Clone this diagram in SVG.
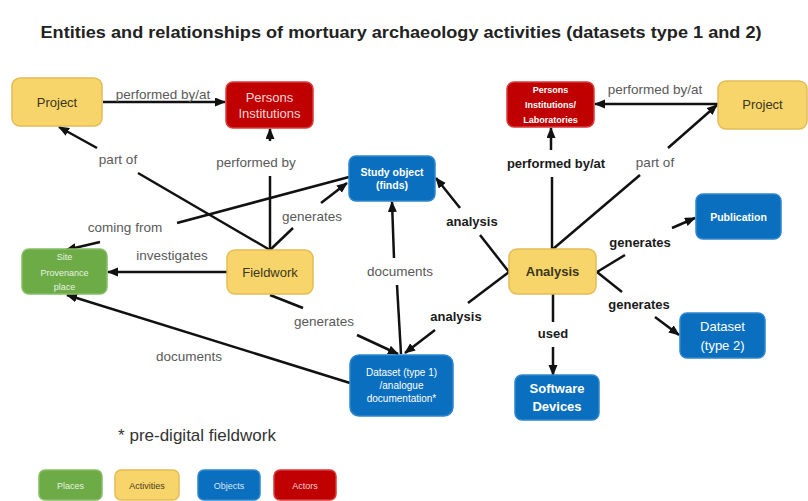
<svg xmlns="http://www.w3.org/2000/svg" width="808" height="501" viewBox="0 0 808 501">
<defs>
<marker id="ah" markerUnits="userSpaceOnUse" markerWidth="11" markerHeight="10" refX="10" refY="4.5" orient="auto">
<path d="M0,0 L11,4.5 L0,9 z" fill="#111"/>
</marker>
<style>
text{font-family:"Liberation Sans",Arial,sans-serif;text-anchor:middle}
.title{font-size:17px;font-weight:bold;fill:#222}
.yel{fill:#F8D56A;stroke:#E3BC55;stroke-width:1.5}
.red{fill:#C00000;stroke:#D83A3A;stroke-width:1.5}
.blu{fill:#0A6FBF;stroke:#2F86CC;stroke-width:1.5}
.grn{fill:#6CAB46;stroke:#86BD65;stroke-width:1.5}
.tdk{fill:#3A3520;font-size:13px}
.tlt{fill:#F6D6D6;font-size:13px}
.tw{fill:#FFFFFF}
.lbl{font-size:13.5px;fill:#595959}
.lbb{font-size:13px;font-weight:bold;fill:#1A1A1A}
#connectors line{stroke:#111;stroke-width:2.5;fill:none}
.arr{marker-end:url(#ah)}
</style>
</defs>
<rect width="808" height="501" fill="#FFFFFF"/>
<text class="title" x="401" y="38" textLength="721" lengthAdjust="spacingAndGlyphs">Entities and relationships of mortuary archaeology activities (datasets type 1 and 2)</text>

<g id="connectors">
<line class="arr" x1="103" y1="102" x2="225" y2="102"/>
<line x1="270" y1="250" x2="270" y2="176"/>
<line class="arr" x1="270" y1="141" x2="270" y2="129"/>
<line x1="270" y1="250" x2="138" y2="173"/>
<line class="arr" x1="97" y1="148" x2="59" y2="127"/>
<line x1="270" y1="250" x2="293" y2="228"/>
<line class="arr" x1="321" y1="203" x2="347" y2="183"/>
<line x1="349" y1="177" x2="177" y2="223"/>
<line class="arr" x1="100" y1="242" x2="66" y2="250"/>
<line class="arr" x1="227" y1="272" x2="108" y2="272"/>
<line x1="270" y1="295" x2="303" y2="308"/>
<line class="arr" x1="357" y1="335" x2="398" y2="354"/>
<line class="arr" x1="350" y1="383" x2="67" y2="295"/>
<line x1="401" y1="354" x2="397" y2="285"/>
<line class="arr" x1="394" y1="258" x2="392" y2="202"/>
<line x1="509" y1="272" x2="480" y2="235"/>
<line class="arr" x1="460" y1="208" x2="436" y2="178"/>
<line x1="509" y1="272" x2="468" y2="303"/>
<line class="arr" x1="435" y1="330" x2="405" y2="353"/>
<line x1="552" y1="249" x2="552" y2="177"/>
<line class="arr" x1="551" y1="150" x2="551" y2="128"/>
<line x1="553" y1="249" x2="640" y2="175"/>
<line class="arr" x1="668" y1="148" x2="717" y2="105"/>
<line class="arr" x1="718" y1="104" x2="595" y2="104"/>
<line x1="597" y1="272" x2="625" y2="255"/>
<line class="arr" x1="672" y1="228" x2="695" y2="218"/>
<line x1="597" y1="272" x2="622" y2="292"/>
<line class="arr" x1="655" y1="317" x2="679" y2="335"/>
<line x1="553" y1="294" x2="553" y2="322"/>
<line class="arr" x1="553" y1="347" x2="553" y2="375"/>
</g>

<g id="edge-labels">
<text class="lbl" x="163" y="99">performed by/at</text>
<text class="lbl" x="256" y="167">performed by</text>
<text class="lbl" x="118" y="164">part of</text>
<text class="lbl" x="312" y="221">generates</text>
<text class="lbl" x="125" y="232">coming from</text>
<text class="lbl" x="172" y="260">investigates</text>
<text class="lbl" x="324" y="326">generates</text>
<text class="lbl" x="189" y="361">documents</text>
<text class="lbl" x="400" y="276">documents</text>
<text class="lbb" x="472" y="226">analysis</text>
<text class="lbb" x="456" y="321">analysis</text>
<text class="lbb" x="556" y="168">performed by/at</text>
<text class="lbl" x="655" y="167">part of</text>
<text class="lbl" x="655" y="94">performed by/at</text>
<text class="lbb" x="640" y="247">generates</text>
<text class="lbb" x="639" y="309">generates</text>
<text class="lbb" x="553" y="338">used</text>
</g>

<g id="project-left">
<rect class="yel" x="12" y="78" width="90" height="48" rx="8"/>
<text class="tdk" x="57" y="107">Project</text>
</g>
<g id="persons-left">
<rect class="red" x="226" y="82" width="87" height="46" rx="7"/>
<text class="tlt" x="269.5" y="102">Persons</text>
<text class="tlt" x="269.5" y="118">Institutions</text>
</g>
<g id="study-object">
<rect class="blu" x="349" y="156" width="86" height="45" rx="7"/>
<text class="tw" x="392" y="176" font-size="10.5" font-weight="bold">Study object</text>
<text class="tw" x="392" y="189" font-size="10.5" font-weight="bold">(finds)</text>
</g>
<g id="site">
<rect class="grn" x="22" y="249" width="85" height="45" rx="7"/>
<text x="64.5" y="260" font-size="9" fill="#E8F3E0">Site</text>
<text x="64.5" y="276" font-size="9" fill="#E8F3E0">Provenance</text>
<text x="64.5" y="290" font-size="9" fill="#E8F3E0">place</text>
</g>
<g id="fieldwork">
<rect class="yel" x="227" y="250" width="86" height="44" rx="8"/>
<text class="tdk" x="270" y="277">Fieldwork</text>
</g>
<g id="dataset1">
<rect class="blu" x="350" y="355" width="103" height="61" rx="9"/>
<text class="tw" x="401.5" y="376" font-size="10">Dataset (type 1)</text>
<text class="tw" x="401.5" y="389" font-size="10">/analogue</text>
<text class="tw" x="401.5" y="402" font-size="10">documentation*</text>
</g>
<g id="persons-right">
<rect class="red" x="507" y="82" width="87" height="45" rx="7"/>
<text class="tw" x="550.5" y="93" font-size="9" font-weight="bold">Persons</text>
<text class="tw" x="550.5" y="108" font-size="9" font-weight="bold">Institutions/</text>
<text class="tw" x="550.5" y="123" font-size="9" font-weight="bold">Laboratories</text>
</g>
<g id="project-right">
<rect class="yel" x="718" y="81" width="89" height="48" rx="8"/>
<text class="tdk" x="762.5" y="109">Project</text>
</g>
<g id="analysis">
<rect class="yel" x="509" y="249" width="87" height="45" rx="8"/>
<text class="tdk" x="552.5" y="276" font-weight="bold" font-size="12.5">Analysis</text>
</g>
<g id="publication">
<rect class="blu" x="696" y="194" width="85" height="45" rx="7"/>
<text class="tw" x="738.5" y="221" font-size="10.5" font-weight="bold">Publication</text>
</g>
<g id="dataset2">
<rect class="blu" x="680" y="313" width="85" height="45" rx="7"/>
<text class="tw" x="722.5" y="331" font-size="13">Dataset</text>
<text class="tw" x="722.5" y="350" font-size="13">(type 2)</text>
</g>
<g id="software">
<rect class="blu" x="515" y="375" width="84" height="45" rx="7"/>
<text class="tw" x="557" y="393" font-size="13" font-weight="bold">Software</text>
<text class="tw" x="557" y="411" font-size="13" font-weight="bold">Devices</text>
</g>

<text x="197" y="441" font-size="17" fill="#333">* pre-digital fieldwork</text>

<g id="legend">
<g id="legend-places">
<rect class="grn" x="39" y="470" width="63" height="30" rx="6"/>
<text x="70.5" y="489" font-size="9" fill="#E8F3E0">Places</text>
</g>
<g id="legend-activities">
<rect class="yel" x="115" y="470" width="64" height="30" rx="6"/>
<text x="147" y="489" font-size="9" fill="#4A4020">Activities</text>
</g>
<g id="legend-objects">
<rect class="blu" x="198" y="470" width="62" height="30" rx="6"/>
<text x="229" y="489" font-size="9" fill="#D8E8F8">Objects</text>
</g>
<g id="legend-actors">
<rect class="red" x="274" y="470" width="62" height="30" rx="6"/>
<text x="305" y="489" font-size="9" fill="#F6D0D0">Actors</text>
</g>
</g>
</svg>
